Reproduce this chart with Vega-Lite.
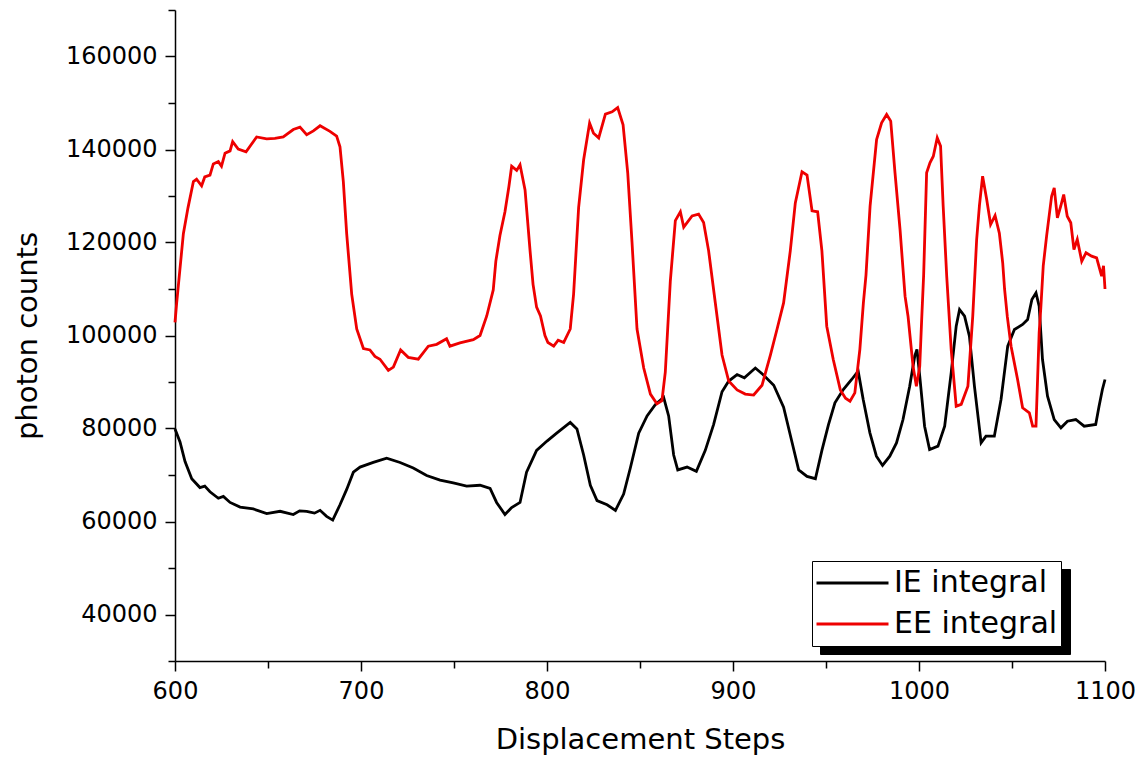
{
"$schema": "https://vega.github.io/schema/vega-lite/v6.json",
"width": 930, "height": 651,
"autosize": "none",
"padding": {"left": 175, "top": 10, "right": 43, "bottom": 102},
"background": "white",
"config": {"view": {"stroke": null},
  "axis": {"grid": false, "domainColor": "black", "tickColor": "black", "labelColor": "black", "titleColor": "black", "labelFont": "DejaVu Sans", "titleFont": "DejaVu Sans", "titleFontWeight": "normal", "domainWidth": 1.5, "tickWidth": 1.5, "labelOverlap": false, "labelFlush": false}},
"datasets": {
"ie": [
{"step":600,"counts":79900},{"step":602.7,"counts":77100},{"step":605.4,"counts":72900},{"step":609,"counts":69200},{"step":613.4,"counts":67300},{"step":616,"counts":67600},{"step":618.8,"counts":66400},{"step":623.3,"counts":65000},{"step":626,"counts":65400},{"step":629.6,"counts":64100},{"step":635,"counts":63100},{"step":642.1,"counts":62700},{"step":649.3,"counts":61700},{"step":656.5,"counts":62200},{"step":663.6,"counts":61500},{"step":667,"counts":62300},{"step":670.8,"counts":62200},{"step":675,"counts":61800},{"step":678,"counts":62400},{"step":681.5,"counts":61100},{"step":684.8,"counts":60300},{"step":688.7,"counts":63600},{"step":692.3,"counts":66900},{"step":695.9,"counts":70600},{"step":699.5,"counts":71700},{"step":706.6,"counts":72700},{"step":713.8,"counts":73600},{"step":721,"counts":72700},{"step":728.1,"counts":71500},{"step":735.3,"counts":69900},{"step":742.5,"counts":68900},{"step":749.6,"counts":68300},{"step":756.8,"counts":67600},{"step":764,"counts":67800},{"step":769.4,"counts":67100},{"step":772.9,"counts":64100},{"step":777.4,"counts":61500},{"step":781,"counts":63000},{"step":785.5,"counts":64100},{"step":789,"counts":70600},{"step":794.4,"counts":75300},{"step":800,"counts":77300},{"step":805.2,"counts":79000},{"step":812.5,"counts":81300},{"step":816.1,"counts":79900},{"step":819.7,"counts":74300},{"step":823.3,"counts":67800},{"step":826.9,"counts":64500},{"step":832.3,"counts":63600},{"step":836.8,"counts":62400},{"step":841.2,"counts":65900},{"step":844.8,"counts":71500},{"step":849.3,"counts":79000},{"step":853.8,"counts":82700},{"step":858.2,"counts":85100},{"step":862.7,"counts":86700},{"step":865.4,"counts":82700},{"step":868.1,"counts":74300},{"step":870.3,"counts":71100},{"step":875.3,"counts":71700},{"step":880.3,"counts":70800},{"step":885.1,"counts":75300},{"step":889.6,"counts":80900},{"step":894.1,"counts":87900},{"step":897.7,"counts":90200},{"step":902.2,"counts":91600},{"step":906.1,"counts":90900},{"step":912,"counts":93000},{"step":916.1,"counts":91600},{"step":921.9,"counts":89300},{"step":927.2,"counts":84600},{"step":931.7,"counts":77100},{"step":935.3,"counts":71100},{"step":939.8,"counts":69700},{"step":944.3,"counts":69200},{"step":947.8,"counts":75300},{"step":951.3,"counts":80800},{"step":954.8,"counts":85520},{"step":959.3,"counts":88390},{"step":963.8,"counts":90540},{"step":967.3,"counts":92330},{"step":970,"counts":86240},{"step":973.6,"counts":79070},{"step":977.1,"counts":74040},{"step":980.4,"counts":72050},{"step":984.3,"counts":74040},{"step":987.9,"counts":76910},{"step":991.4,"counts":81930},{"step":995,"counts":89100},{"step":997.7,"counts":95550},{"step":998.9,"counts":96990},{"step":1000.4,"counts":91250},{"step":1003,"counts":80500},{"step":1005.7,"counts":75490},{"step":1010.2,"counts":76200},{"step":1013.8,"counts":80500},{"step":1017.3,"counts":91970},{"step":1020,"counts":102000},{"step":1021.8,"counts":105590},{"step":1024.5,"counts":104150},{"step":1027.1,"counts":99850},{"step":1029.8,"counts":89100},{"step":1033.4,"counts":76910},{"step":1036,"counts":78340},{"step":1040.5,"counts":78340},{"step":1044.1,"counts":86240},{"step":1047.7,"counts":97700},{"step":1051.3,"counts":101290},{"step":1055.7,"counts":102370},{"step":1058.4,"counts":103440},{"step":1060.7,"counts":107750},{"step":1062.9,"counts":109180},{"step":1064.6,"counts":106300},{"step":1066.4,"counts":94840},{"step":1069.1,"counts":86950},{"step":1072.7,"counts":81930},{"step":1076.3,"counts":80150},{"step":1079.8,"counts":81570},{"step":1084.3,"counts":81930},{"step":1088.8,"counts":80500},{"step":1095,"counts":80860},{"step":1096.8,"counts":84800},{"step":1098.6,"counts":88390},{"step":1100,"counts":90540}
],
"ee": [
{"step":600,"counts":102800},{"step":600.9,"counts":107000},{"step":604.5,"counts":121900},{"step":607,"counts":127500},{"step":609.9,"counts":133100},{"step":611.6,"counts":133600},{"step":614.3,"counts":132200},{"step":616,"counts":134100},{"step":618.8,"counts":134500},{"step":620.6,"counts":136900},{"step":623.3,"counts":137400},{"step":625,"counts":136400},{"step":626.9,"counts":139200},{"step":629.6,"counts":139700},{"step":631,"counts":141700},{"step":634,"counts":140100},{"step":638.2,"counts":139500},{"step":643.9,"counts":142700},{"step":649.3,"counts":142300},{"step":653.7,"counts":142400},{"step":658.2,"counts":142700},{"step":663.6,"counts":144300},{"step":667.2,"counts":144800},{"step":670.8,"counts":143200},{"step":674.4,"counts":144000},{"step":678,"counts":145100},{"step":683.3,"counts":143900},{"step":686.9,"counts":142900},{"step":688.7,"counts":140600},{"step":690.5,"counts":133100},{"step":692.3,"counts":121900},{"step":695,"counts":108900},{"step":697.7,"counts":101400},{"step":701.3,"counts":97200},{"step":704.8,"counts":96900},{"step":707.5,"counts":95500},{"step":710.2,"counts":94900},{"step":714.7,"counts":92500},{"step":717.4,"counts":93200},{"step":721.3,"counts":96900},{"step":725.4,"counts":95300},{"step":730.8,"counts":94900},{"step":736.2,"counts":97700},{"step":740.7,"counts":98100},{"step":746,"counts":99300},{"step":747.8,"counts":97700},{"step":753.2,"counts":98400},{"step":760.4,"counts":99100},{"step":764,"counts":100000},{"step":767.6,"counts":104200},{"step":771.1,"counts":109800},{"step":772.5,"counts":116000},{"step":774.7,"counts":121500},{"step":777.4,"counts":126600},{"step":779.5,"counts":132000},{"step":781,"counts":136400},{"step":783.7,"counts":135500},{"step":785.5,"counts":136700},{"step":788.2,"counts":131300},{"step":790.9,"counts":118200},{"step":792.5,"counts":111000},{"step":794.4,"counts":106100},{"step":796.5,"counts":104200},{"step":798.9,"counts":100000},{"step":800.5,"counts":98500},{"step":803.6,"counts":97700},{"step":806,"counts":99000},{"step":809,"counts":98500},{"step":812.5,"counts":101400},{"step":814.3,"counts":108900},{"step":817,"counts":127500},{"step":819.7,"counts":137800},{"step":822.9,"counts":145700},{"step":825,"counts":143500},{"step":827.8,"counts":142500},{"step":831.4,"counts":147600},{"step":835,"counts":148100},{"step":838,"counts":149000},{"step":840.9,"counts":145300},{"step":843.4,"counts":135000},{"step":845.7,"counts":120100},{"step":848.4,"counts":101400},{"step":852,"counts":93000},{"step":855.6,"counts":87400},{"step":859.1,"counts":85300},{"step":861.8,"counts":86000},{"step":863.6,"counts":92100},{"step":866.3,"counts":111700},{"step":869,"counts":124700},{"step":871.7,"counts":126600},{"step":873.5,"counts":123300},{"step":878,"counts":125700},{"step":881.5,"counts":126100},{"step":884.2,"counts":124300},{"step":886.9,"counts":118200},{"step":890.5,"counts":107000},{"step":894.1,"counts":95800},{"step":897.7,"counts":90200},{"step":902.2,"counts":88300},{"step":906.6,"counts":87400},{"step":911.1,"counts":87200},{"step":915.6,"counts":89300},{"step":920.1,"counts":95800},{"step":923.7,"counts":101400},{"step":927.2,"counts":107000},{"step":930.8,"counts":118200},{"step":933.5,"counts":128500},{"step":937.1,"counts":135200},{"step":939.8,"counts":134500},{"step":942.5,"counts":126800},{"step":945.5,"counts":126600},{"step":947.8,"counts":118200},{"step":950.4,"counts":102000},{"step":953.9,"counts":94840},{"step":957.7,"counts":88300},{"step":960.5,"counts":86500},{"step":962.9,"counts":85870},{"step":965.5,"counts":87670},{"step":968.2,"counts":96990},{"step":970.1,"counts":107030},{"step":971.5,"counts":113000},{"step":973.7,"counts":127800},{"step":977.2,"counts":142150},{"step":979.9,"counts":145740},{"step":982.6,"counts":147530},{"step":984.8,"counts":146100},{"step":987.1,"counts":134990},{"step":989.8,"counts":122800},{"step":992.5,"counts":108450},{"step":994.1,"counts":104150},{"step":996.8,"counts":93400},{"step":998.6,"counts":89100},{"step":1000.4,"counts":93400},{"step":1001.5,"counts":104000},{"step":1002.5,"counts":113000},{"step":1004.1,"counts":134990},{"step":1005.9,"counts":137140},{"step":1007.7,"counts":138560},{"step":1009.8,"counts":142520},{"step":1011.6,"counts":140720},{"step":1013,"counts":127800},{"step":1014.9,"counts":112750},{"step":1017.3,"counts":96990},{"step":1020,"counts":84800},{"step":1022.7,"counts":85200},{"step":1026.3,"counts":89100},{"step":1028.9,"counts":104150},{"step":1031,"counts":120650},{"step":1032.5,"counts":128000},{"step":1034.2,"counts":134260},{"step":1036.4,"counts":129250},{"step":1038.5,"counts":123870},{"step":1040.9,"counts":125800},{"step":1043.2,"counts":122000},{"step":1045,"counts":115640},{"step":1046,"counts":110000},{"step":1047.5,"counts":104000},{"step":1049.5,"counts":97700},{"step":1053,"counts":90540},{"step":1055.7,"counts":84450},{"step":1059.3,"counts":83380},{"step":1061.1,"counts":80500},{"step":1062.9,"counts":80500},{"step":1064.6,"counts":100600},{"step":1065.5,"counts":106000},{"step":1066.8,"counts":115000},{"step":1068.6,"counts":121360},{"step":1071.3,"counts":129960},{"step":1072.7,"counts":131760},{"step":1074.4,"counts":125300},{"step":1076.2,"counts":127800},{"step":1077.8,"counts":130320},{"step":1079.7,"counts":125660},{"step":1081.6,"counts":124240},{"step":1083.3,"counts":118500},{"step":1085.1,"counts":120650},{"step":1087.5,"counts":115980},{"step":1089.8,"counts":117780},{"step":1092.8,"counts":117060},{"step":1095.5,"counts":116710},{"step":1098.2,"counts":112750},{"step":1099.2,"counts":115000},{"step":1100,"counts":110000}
]},
"layer": [
 {"data": {"name": "ie"},
  "mark": {"type": "point", "opacity": 0},
  "encoding": {
   "x": {"field": "step", "type": "quantitative", "scale": {"domain": [600, 1100], "nice": false, "zero": false},
     "axis": {"values": [600,650,700,750,800,850,900,950,1000,1050,1100], "format": "d", "labelExpr": "datum.value % 100 === 0 ? datum.label : ''", "tickSize": {"condition": {"test": "datum.value % 100 === 0", "value": 10}, "value": 7}, "labelFontSize": 24, "labelPadding": 8, "title": "Displacement Steps", "titleFontSize": 29, "titlePadding": 22}},
   "y": {"field": "counts", "type": "quantitative", "scale": {"domain": [30000, 170000], "nice": false, "zero": false},
     "axis": {"values": [30000,40000,50000,60000,70000,80000,90000,100000,110000,120000,130000,140000,150000,160000,170000], "format": "d", "labelExpr": "datum.value % 20000 === 0 ? datum.label : ''", "tickSize": {"condition": {"test": "datum.value % 20000 === 0", "value": 10}, "value": 7}, "labelFontSize": 24, "labelPadding": 8, "title": "photon counts", "titleFontSize": 29, "titlePadding": 23}},
   "fill": {"datum": "IE shadow", "type": "nominal", "scale": {"domain": ["IE shadow", "EE shadow"], "range": ["#000000", "#000000"]},
     "legend": {"orient": "none", "legendX": 645, "legendY": 559, "zindex": 1, "title": null, "labelExpr": "''", "symbolType": "stroke", "symbolSize": 58564, "symbolOpacity": 0, "labelFontSize": 30, "labelOffset": 0, "strokeColor": "black", "fillColor": "black", "padding": 3, "clipHeight": 38, "rowPadding": 3}}
  }},
 {"data": {"name": "ie"},
  "mark": {"type": "line", "strokeWidth": 2.8},
  "encoding": {
   "x": {"field": "step", "type": "quantitative"},
   "y": {"field": "counts", "type": "quantitative"},
   "stroke": {"datum": "IE integral", "type": "nominal", "scale": {"domain": ["IE integral", "EE integral"], "range": ["#000000", "#ee0000"]},
     "legend": {"orient": "none", "legendX": 637, "legendY": 551, "zindex": 2, "title": null, "symbolType": "stroke", "symbolSize": 5184, "symbolStrokeWidth": 2.8, "labelFont": "DejaVu Sans", "labelFontSize": 30, "labelColor": "black", "labelLimit": 400, "strokeColor": "black", "fillColor": "white", "padding": 3, "clipHeight": 38, "rowPadding": 3, "labelOffset": 4}}
  }},
 {"data": {"name": "ee"},
  "mark": {"type": "line", "strokeWidth": 2.8},
  "encoding": {
   "x": {"field": "step", "type": "quantitative"},
   "y": {"field": "counts", "type": "quantitative"},
   "stroke": {"datum": "EE integral", "type": "nominal"}
  }}
]
}
